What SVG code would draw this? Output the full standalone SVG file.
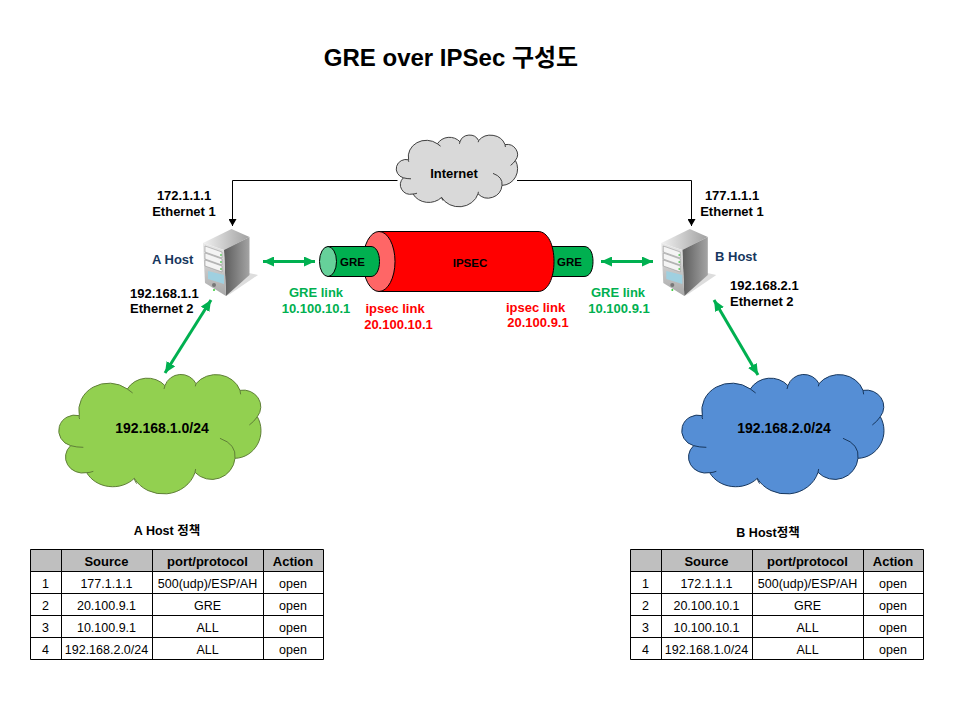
<svg xmlns="http://www.w3.org/2000/svg" xmlns:xlink="http://www.w3.org/1999/xlink" width="960" height="720" viewBox="0 0 960 720">
<style>
text{font-family:"Liberation Sans","Noto Sans CJK KR",sans-serif;font-size:13px;font-weight:bold;fill:#000;stroke:none;text-anchor:middle}
.s{text-anchor:start}
.gr{fill:#00b050}
.rd{fill:#f00}
.nv{fill:#17375e}
.t{font-weight:normal;font-size:12.5px}
.h{font-size:13px}
.sm{font-size:11.5px}
.net{font-size:14px}
.cl{vector-effect:non-scaling-stroke;stroke-width:1}
.grid{fill:none;stroke:#000;stroke-width:1}
.hd{fill:#bfbfbf}
.blk{fill:none;stroke:#000;stroke-width:1;marker-end:url(#ah)}
.grn{fill:none;stroke:#00b050;stroke-width:3;marker-start:url(#gs);marker-end:url(#ge)}
</style>
<defs>
<marker id="ah" markerWidth="8" markerHeight="8" refX="7" refY="4" orient="auto" markerUnits="userSpaceOnUse"><path d="M0 0L7 4L0 8z" fill="#000"/></marker>
<marker id="ge" markerWidth="12" markerHeight="10" refX="11" refY="5" orient="auto" markerUnits="userSpaceOnUse"><path d="M0 0L11 5L0 10z" fill="#00b050"/></marker>
<marker id="gs" markerWidth="12" markerHeight="10" refX="1" refY="5" orient="auto" markerUnits="userSpaceOnUse"><path d="M12 0L1 5L12 10z" fill="#00b050"/></marker>
<path id="cloud" class="cl" d="M88 152A90 82 0 0 1 232 72A70 66 0 0 1 345 62A50 48 0 0 1 438 56A76 70 0 0 1 570 76A53 50 0 0 1 622 155A80 83 0 0 1 555 280A70 70 0 0 1 435 322A99 90 0 0 1 253 340A88 78 0 0 1 110 323A52 48 0 0 1 62 242A47 45 0 0 1 88 152Z"/>
<path id="cloudin" class="cl" fill="none" d="M88 152Q86 156 89 162M232 72Q240 78 248 84M345 62L342 72M438 56L436 64M570 76L572 88M622 155Q612 170 598 180M510 220Q560 238 555 280M435 322L437 312M253 340Q254 348 260 356M110 323Q120 323 130 319M62 242Q80 247 100 247"/>
<linearGradient id="srvL" x1="0" y1="0" x2="0" y2="1"><stop offset="0" stop-color="#e8e8e8"/><stop offset="1" stop-color="#a8a8a8"/></linearGradient>
<linearGradient id="srvR" x1="0" y1="0" x2="1" y2="0"><stop offset="0" stop-color="#5c5c5c"/><stop offset="1" stop-color="#a4a4a4"/></linearGradient>
<linearGradient id="srvT" x1="0" y1="0" x2="1" y2="0"><stop offset="0" stop-color="#f0f0f0"/><stop offset="1" stop-color="#a0a0a0"/></linearGradient>
<g id="server">
<path d="M249 273L258 275L230 294L226 296z" fill="#ddd"/>
<path d="M203 243L231.500 229L249.500 237L224 250z" fill="url(#srvT)"/>
<path d="M224 250L249.500 237L249.500 275L226 296z" fill="url(#srvR)"/>
<path d="M203 243L224 250L226 296L205 283z" fill="url(#srvL)"/>
<path d="M205 246L222 252L222 258L205 252zM205 253L222 259L222 265L205 259zM205 260L222 266L222 272L205 266z" fill="#f4f4f4" stroke="#888" stroke-width=".5"/>
<path d="M208 271L224 275L224 284L208 279z" fill="#9fd0e0"/>
<circle cx="214" cy="285" r="2" fill="#777"/>
<circle cx="214" cy="290" r="1" fill="#3c3"/>
<circle cx="221" cy="255" r="1" fill="#6c6"/><circle cx="221" cy="262" r="1" fill="#6c6"/><circle cx="221" cy="269" r="1" fill="#6c6"/>
</g>
<g id="grid">
<rect class="hd" x="0" y="0" width="293" height="22"/>
<path class="grid" d="M.5 .5H293.500V110.500H.5ZM.5 22.500H293.500M.5 44.500H293.500M.5 66.500H293.500M.5 88.500H293.500M31.500 .5V110.500M122.500 .5V110.500M233.500 .5V110.500"/>
</g>
</defs>

<text id="title" x="451" y="66" style="font-size:24px">GRE over IPSec 구성도</text>

<g id="connectors">
<path class="blk" d="M397.500 180.500H232.500V226"/>
<path class="blk" d="M517 180.500H691.500V226"/>
<path class="grn" d="M263 261.500H315"/>
<path class="grn" d="M601 261.500H653"/>
<path class="grn" d="M165 373L211 300"/>
<path class="grn" d="M714 300L758 375"/>
</g>

<g id="cloud-internet" fill="#d9d9d9" stroke="#404040">
<use xlink:href="#cloud" href="#cloud" transform="translate(391 129.400) scale(.2)"/>
<use xlink:href="#cloudin" href="#cloudin" transform="translate(391 129.400) scale(.2)"/>
<text x="454" y="178">Internet</text>
</g>

<g id="tunnel" stroke="#000" stroke-width="1">
<path id="gre-right" d="M540 246.500H584C590 246.500 593 253 593 261.500C593 270 590 276.500 584 276.500H540Z" fill="#00b050"/>
<path id="ipsec-body" d="M379 231.500H538C548 231.500 554 245 554 261.500C554 278 548 291.500 538 291.500H379Z" fill="#f00"/>
<ellipse id="ipsec-mouth" cx="379" cy="261.500" rx="16" ry="30" fill="#ff6666"/>
<path id="gre-left" d="M328 246.500H371C376 246.500 379.500 253 379.500 261.500C379.500 270 376 276.500 371 276.500H328Z" fill="#00b050"/>
<ellipse id="gre-mouth" cx="328" cy="261.500" rx="8.500" ry="15" fill="#66d19a"/>
<text class="sm" x="352.500" y="266">GRE</text>
<text class="sm" x="470" y="267">IPSEC</text>
<text class="sm" x="569.500" y="266">GRE</text>
</g>

<g id="host-a">
<use xlink:href="#server" href="#server"/>
<text class="nv s" x="152" y="263.500">A Host</text>
<text x="184" y="200">172.1.1.1</text>
<text x="184" y="215.500">Ethernet 1</text>
<text class="s" x="130" y="297.500">192.168.1.1</text>
<text class="s" x="130" y="313">Ethernet 2</text>
</g>

<g id="host-b">
<use xlink:href="#server" href="#server" x="458.300"/>
<text class="nv s" x="715" y="260.500">B Host</text>
<text x="732" y="200">177.1.1.1</text>
<text x="732" y="215.500">Ethernet 1</text>
<text class="s" x="730" y="290">192.168.2.1</text>
<text class="s" x="730" y="305.500">Ethernet 2</text>
</g>

<g id="labels-left">
<text class="gr" x="316" y="297">GRE link</text>
<text class="gr" x="316" y="312.500">10.100.10.1</text>
<text class="rd" x="395" y="313">ipsec link</text>
<text class="rd" x="398.500" y="328.500">20.100.10.1</text>
</g>
<g id="labels-right">
<text class="rd" x="535.500" y="311.500">ipsec link</text>
<text class="rd" x="538" y="327">20.100.9.1</text>
<text class="gr" x="618" y="297">GRE link</text>
<text class="gr" x="619" y="312.500">10.100.9.1</text>
</g>

<g id="cloud-a" fill="#92d050" stroke="#5f7f37">
<use xlink:href="#cloud" href="#cloud" transform="translate(50 365) scale(.3333)"/>
<use xlink:href="#cloudin" href="#cloudin" transform="translate(50 365) scale(.3333)"/>
<text class="net" x="162" y="433">192.168.1.0/24</text>
</g>

<g id="cloud-b" fill="#558ed5" stroke="#17375e">
<use xlink:href="#cloud" href="#cloud" transform="translate(673 365) scale(.3333)"/>
<use xlink:href="#cloudin" href="#cloudin" transform="translate(673 365) scale(.3333)"/>
<text class="net" x="784" y="433">192.168.2.0/24</text>
</g>

<g id="table-a" transform="translate(30 549)">
<text x="137" y="-14" style="font-size:12.500px">A Host 정책</text>
<use xlink:href="#grid" href="#grid"/>
<text class="h" x="76.500" y="17">Source</text><text class="h" x="177.500" y="17">port/protocol</text><text class="h" x="263" y="17">Action</text>
<text class="t" x="15.500" y="39">1</text><text class="t" x="76.500" y="39">177.1.1.1</text><text class="t" x="177.500" y="39">500(udp)/ESP/AH</text><text class="t" x="263" y="39">open</text>
<text class="t" x="15.500" y="61">2</text><text class="t" x="76.500" y="61">20.100.9.1</text><text class="t" x="177.500" y="61">GRE</text><text class="t" x="263" y="61">open</text>
<text class="t" x="15.500" y="83">3</text><text class="t" x="76.500" y="83">10.100.9.1</text><text class="t" x="177.500" y="83">ALL</text><text class="t" x="263" y="83">open</text>
<text class="t" x="15.500" y="105">4</text><text class="t" x="76.500" y="105">192.168.2.0/24</text><text class="t" x="177.500" y="105">ALL</text><text class="t" x="263" y="105">open</text>
</g>

<g id="table-b" transform="translate(630 549)">
<text x="138" y="-12" style="font-size:12.500px">B Host정책</text>
<use xlink:href="#grid" href="#grid"/>
<text class="h" x="76.500" y="17">Source</text><text class="h" x="177.500" y="17">port/protocol</text><text class="h" x="263" y="17">Action</text>
<text class="t" x="15.500" y="39">1</text><text class="t" x="76.500" y="39">172.1.1.1</text><text class="t" x="177.500" y="39">500(udp)/ESP/AH</text><text class="t" x="263" y="39">open</text>
<text class="t" x="15.500" y="61">2</text><text class="t" x="76.500" y="61">20.100.10.1</text><text class="t" x="177.500" y="61">GRE</text><text class="t" x="263" y="61">open</text>
<text class="t" x="15.500" y="83">3</text><text class="t" x="76.500" y="83">10.100.10.1</text><text class="t" x="177.500" y="83">ALL</text><text class="t" x="263" y="83">open</text>
<text class="t" x="15.500" y="105">4</text><text class="t" x="76.500" y="105">192.168.1.0/24</text><text class="t" x="177.500" y="105">ALL</text><text class="t" x="263" y="105">open</text>
</g>
</svg>
